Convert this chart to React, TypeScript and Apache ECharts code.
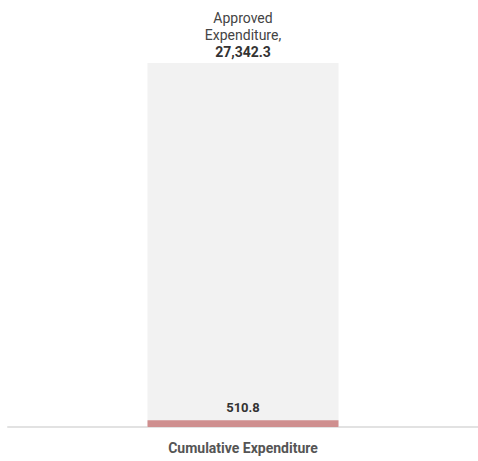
import React, { useEffect, useRef } from "react";
import * as echarts from "echarts";

const categories = ["Cumulative Expenditure"];
const approvedValues = [27342.3];
const cumulativeValues = [510.8];
const approvedLabel = "Approved\nExpenditure,";

const fmt = (v: number) =>
  v.toLocaleString("en-US", { minimumFractionDigits: 1, maximumFractionDigits: 1 });

export default function App() {
  const ref = useRef<HTMLDivElement>(null);
  useEffect(() => {
    if (!ref.current) return;
    const chart = echarts.init(ref.current, undefined, { renderer: "svg" });
    chart.setOption({
      animation: false,
      textStyle: { fontFamily: "Roboto" },
      grid: { left: 8, right: -5, top: 63, bottom: 34, containLabel: false },
      xAxis: {
        type: "category",
        data: categories,
        axisLine: { show: true, lineStyle: { color: "#e2e2e2", width: 2 } },
        axisTick: { show: false },
        axisLabel: {
          fontFamily: "Roboto",
          fontWeight: "bold",
          fontSize: 14,
          color: "#555555",
          margin: 14,
        },
      },
      yAxis: {
        type: "value",
        min: 0,
        max: approvedValues[0],
        show: false,
        splitLine: { show: false },
      },
      series: [
        {
          type: "bar",
          data: approvedValues,
          barWidth: 191,
          barGap: "-100%",
          itemStyle: { color: "#f2f2f2" },
          silent: true,
          z: 1,
          label: {
            show: true,
            position: "top",
            distance: 3,
            formatter: (p: any) => `{a|${approvedLabel}}\n{b|${fmt(p.value)}}`,
            rich: {
              a: { fontFamily: "Roboto", fontSize: 14, color: "#444444", lineHeight: 17, align: "center" },
              b: { fontFamily: "Roboto", fontSize: 14, fontWeight: "bold", color: "#333333", lineHeight: 17, align: "center" },
            },
          },
        },
        {
          type: "bar",
          data: cumulativeValues,
          barWidth: 191,
          itemStyle: { color: "#cf8f8f" },
          z: 2,
          label: {
            show: true,
            position: "top",
            distance: 6,
            formatter: (p: any) => fmt(p.value),
            fontFamily: "Roboto",
            fontSize: 13,
            fontWeight: "bold",
            color: "#333333",
          },
        },
      ],
    });
    return () => chart.dispose();
  }, []);
  return (
    <div
      ref={ref}
      style={{ position: "absolute", left: 0, top: 0, width: 478, height: 461 }}
    />
  );
}
